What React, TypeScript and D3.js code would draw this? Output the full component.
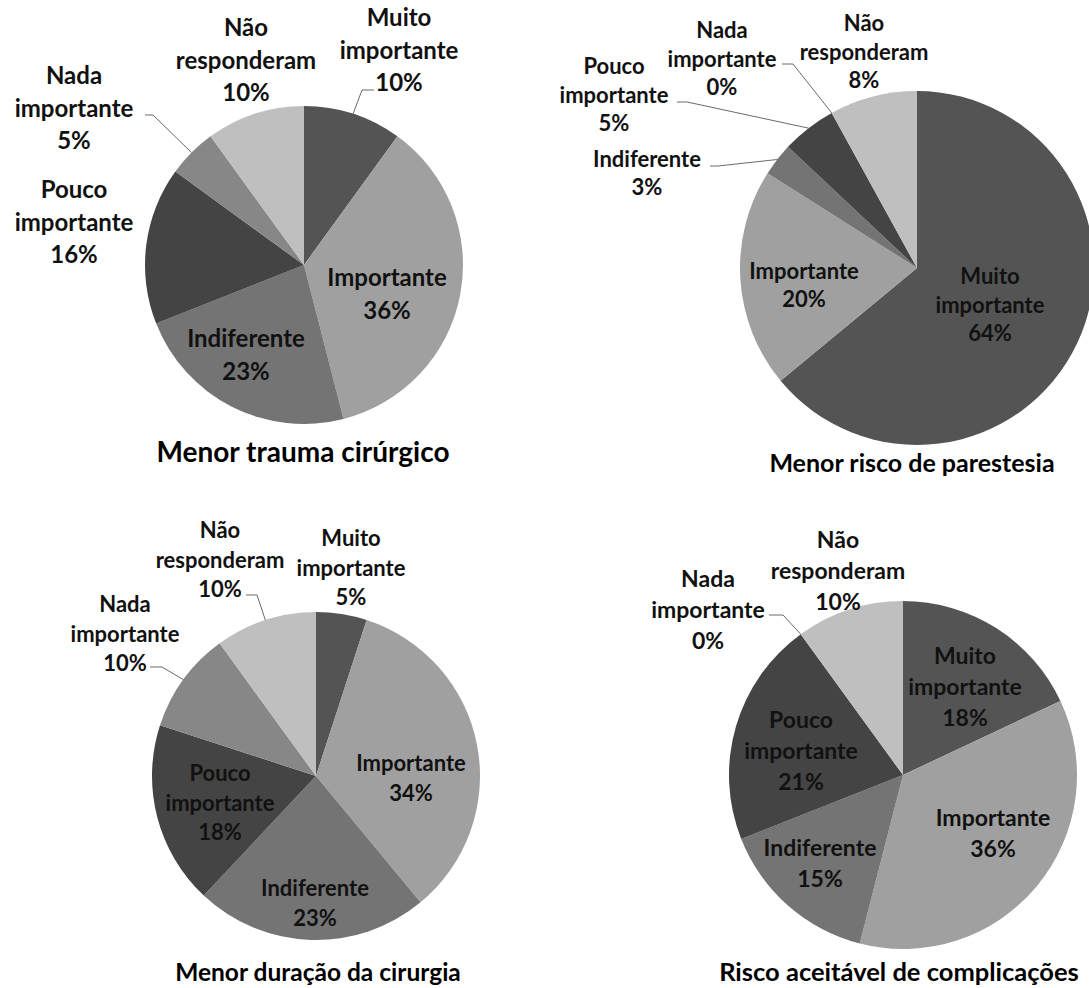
import * as d3 from 'd3'

const categories = [
  'Muito importante',
  'Importante',
  'Indiferente',
  'Pouco importante',
  'Nada importante',
  'Não responderam',
]

const traumaValues = [10, 36, 23, 16, 5, 10]
const parestesiaValues = [64, 20, 3, 5, 0, 8]
const duracaoValues = [5, 34, 23, 18, 10, 10]
const riscoValues = [18, 36, 15, 21, 0, 10]

const titles = [
  'Menor trauma cirúrgico',
  'Menor risco de parestesia',
  'Menor duração da cirurgia',
  'Risco aceitável de complicações',
]

const palette = ['#545454', '#a0a0a0', '#747474', '#444444', '#878787', '#bfbfbf']

// label centres are offsets from each pie centre; leaders: [elbowDx, elbowDy, tailLength]
const panels = [
  {
    values: traumaValues, cx: 304, cy: 265, r: 159, fs: 24, lh: 32.5,
    titleX: 303, titleY: 452, titleFs: 28,
    labels: [[95, -215], [83, 29], [-58, 90], [-230, -43], [-230, -157], [-58, -205]],
    leaders: { 0: [58, -175, 12], 4: [-151, -150, -8] } as Record<number, number[]>,
  },
  {
    values: parestesiaValues, cx: 917, cy: 268, r: 177, fs: 22, lh: 28.5,
    titleX: 912, titleY: 463, titleFs: 25,
    labels: [[73, 37], [-113, 17], [-270, -95], [-303, -173], [-195, -209], [-53, -216]],
    leaders: { 2: [-199, -102, -8], 3: [-230, -166, -10], 4: [-124, -204, -11] } as Record<number, number[]>,
  },
  {
    values: duracaoValues, cx: 316, cy: 776, r: 164, fs: 22, lh: 29.5,
    titleX: 318, titleY: 972, titleFs: 24.5,
    labels: [[35, -208], [95, 2], [-1, 127], [-96, 27], [-191, -142], [-96, -216]],
    leaders: { 4: [-154, -109, -12], 5: [-59, -181, -11] } as Record<number, number[]>,
  },
  {
    values: riscoValues, cx: 903, cy: 775, r: 174, fs: 23, lh: 31,
    titleX: 899, titleY: 972, titleFs: 25.5,
    labels: [[62, -88], [90, 58], [-83, 88], [-102, -24], [-195, -165], [-65, -204]],
    leaders: { 4: [-120, -160, -14] } as Record<number, number[]>,
  },
]

const FONT = "Lato, 'Open Sans', sans-serif"

function PiePanel({ panel, title }: { panel: (typeof panels)[number]; title: string }) {
  const pie = d3.pie<number>().sort(null).value((d) => d)
  const arcs = pie(panel.values)
  const arc = d3.arc<d3.PieArcDatum<number>>().innerRadius(0).outerRadius(panel.r)
  const edge = d3.arc<d3.PieArcDatum<number>>().innerRadius(panel.r).outerRadius(panel.r)

  return (
    <g>
      <g transform={`translate(${panel.cx},${panel.cy})`}>
        {arcs.map((a, i) => (
          <path key={i} d={arc(a) ?? ''} fill={palette[i]} />
        ))}
        {arcs.map((a, i) => {
          const ld = panel.leaders[i]
          if (!ld) return null
          const [ex, ey] = edge.centroid(a)
          return (
            <path
              key={'l' + i}
              d={`M${ex},${ey}L${ld[0]},${ld[1]}L${ld[0] + ld[2]},${ld[1]}`}
              fill="none"
              stroke="#6a6a6a"
              strokeWidth={1}
            />
          )
        })}
        {arcs.map((a, i) => {
          const lines = [...categories[i].split(' '), `${panel.values[i]}%`]
          const [lx, ly] = panel.labels[i]
          const top = ly - ((lines.length - 1) / 2) * panel.lh
          return (
            <text
              key={'t' + i}
              textAnchor="middle"
              fontFamily={FONT}
              fontWeight={700}
              fontSize={panel.fs}
              fill="#111"
            >
              {lines.map((s, j) => (
                <tspan key={j} x={lx} y={top + j * panel.lh + panel.fs * 0.36}>
                  {s}
                </tspan>
              ))}
            </text>
          )
        })}
      </g>
      <text
        x={panel.titleX}
        y={panel.titleY + panel.titleFs * 0.36}
        textAnchor="middle"
        fontFamily={FONT}
        fontWeight={700}
        fontSize={panel.titleFs}
        fill="#000"
      >
        {title}
      </text>
    </g>
  )
}

export default function App() {
  return (
    <svg
      width={1089}
      height={988}
      style={{ position: 'absolute', left: 0, top: 0, background: '#fff' }}
    >
      <rect width={1089} height={988} fill="#fff" />
      {panels.map((p, i) => (
        <PiePanel key={i} panel={p} title={titles[i]} />
      ))}
    </svg>
  )
}
